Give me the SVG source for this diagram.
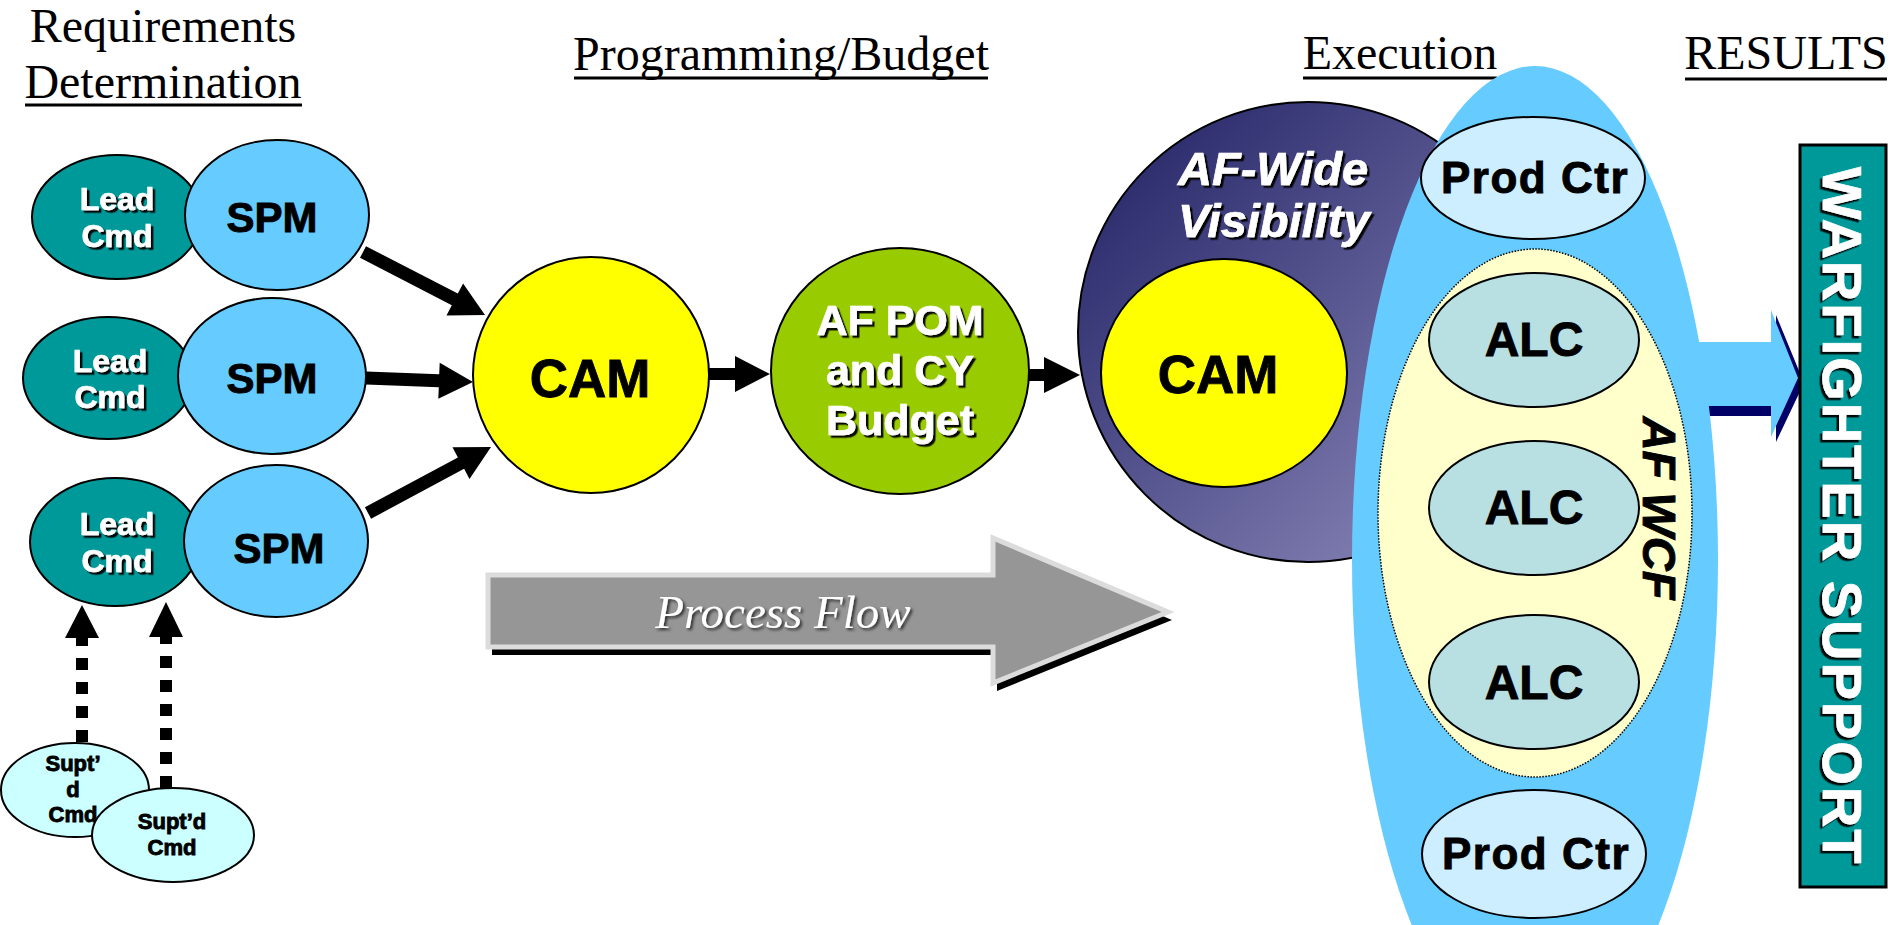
<svg xmlns="http://www.w3.org/2000/svg" width="1895" height="925" viewBox="0 0 1895 925">
<style>
  .head { font-family: "Liberation Serif", "Times New Roman", serif; font-size: 48px; fill: #000; text-anchor: middle; }
  .ul { stroke: #000; stroke-width: 3; }
  .b { font-family: "Liberation Sans", Arial, sans-serif; font-weight: bold; text-anchor: middle; }
  .blk { fill: #000; stroke: #000; stroke-width: 0.9; }
  .wht { fill: #fff; stroke: #fff; stroke-width: 0.7; filter: url(#sh); }
  .edge { stroke: #000; stroke-width: 2; }
  .arr { fill: #000; }
</style>
<defs>
  <filter id="sh" x="-20%" y="-20%" width="140%" height="140%">
    <feDropShadow dx="2.5" dy="2.5" stdDeviation="0.6" flood-color="#000" flood-opacity="0.95"/>
  </filter>
  <filter id="sh2" x="-20%" y="-30%" width="140%" height="160%">
    <feDropShadow dx="2" dy="2" stdDeviation="1.5" flood-color="#000" flood-opacity="0.7"/>
  </filter>
  <linearGradient id="dark" x1="0" y1="0" x2="1" y2="1">
    <stop offset="0" stop-color="#1e1e62"/>
    <stop offset="1" stop-color="#9491c0"/>
  </linearGradient>
</defs>

<g id="headings">
  <text class="head" x="163" y="42">Requirements</text>
  <text class="head" x="163" y="98">Determination</text>
  <line class="ul" x1="25" y1="105" x2="302" y2="105"/>
  <text class="head" x="781" y="70">Programming/Budget</text>
  <line class="ul" x1="574" y1="78" x2="988" y2="78"/>
  <text class="head" x="1400" y="69">Execution</text>
  <line class="ul" x1="1303" y1="78" x2="1497" y2="78"/>
  <text class="head" x="1786" y="69">RESULTS</text>
  <line class="ul" x1="1685" y1="79" x2="1887" y2="79"/>
</g>

<g id="process-flow">
  <polygon points="492,583 997,583 997,546 1172,620 997,691 997,655 492,655" fill="#000"/>
  <polygon points="488,575 993,575 993,538 1168,612 993,683 993,647 488,647" fill="#969696" stroke="#dcdcdc" stroke-width="5" stroke-linejoin="miter"/>
  <text x="783" y="628" font-family="Liberation Serif, serif" font-style="italic" font-size="47" fill="#fff" text-anchor="middle" filter="url(#sh2)">Process Flow</text>
</g>

<g id="connectors">
  <polygon class="arr" points="360.0,257.8 451.8,305.2 446.5,315.4 485,315 463.1,283.4 457.8,293.6 366.0,246.2"/>
  <polygon class="arr" points="365.8,384.5 438.8,387.2 438.3,398.7 473,382 439.7,362.7 439.2,374.2 366.2,371.5"/>
  <polygon class="arr" points="371.1,518.7 464.1,468.8 469.5,479.0 491,447 452.5,447.2 457.9,457.4 364.9,507.3"/>
  <polygon class="arr" points="706,368 735,368 735,356 770,374 735,392 735,380 706,380"/>
  <polygon class="arr" points="1026,369 1044,369 1044,357 1080,375 1044,393 1044,381 1026,381"/>
  <line x1="82" y1="742" x2="82" y2="636" stroke="#000" stroke-width="12" stroke-dasharray="12 12"/>
  <polygon class="arr" points="65,638 99,638 82,605"/>
  <line x1="166" y1="788" x2="166" y2="635" stroke="#000" stroke-width="12" stroke-dasharray="12 12"/>
  <polygon class="arr" points="149,637 183,637 166,602"/>
  <polygon points="1697,347 1776,347 1776,315 1804,383 1776,442 1776,416 1697,416" fill="#000066"/>
  <polygon points="1690,342 1771,342 1771,310 1798,378 1771,437 1771,406 1690,406" fill="#66ccff"/>
</g>

<g id="lead-cmd-1">
  <ellipse cx="117" cy="217" rx="85" ry="62" fill="#009999" class="edge"/>
  <text class="b wht" font-size="32" x="117" y="210">Lead</text>
  <text class="b wht" font-size="32" x="117" y="247">Cmd</text>
</g>
<g id="spm-1">
  <ellipse cx="277" cy="215" rx="92" ry="75" fill="#66ccff" class="edge"/>
  <text class="b blk" font-size="42" x="272" y="232">SPM</text>
</g>
<g id="lead-cmd-2">
  <ellipse cx="108" cy="378" rx="85" ry="61" fill="#009999" class="edge"/>
  <text class="b wht" font-size="32" x="110" y="372">Lead</text>
  <text class="b wht" font-size="32" x="110" y="408">Cmd</text>
</g>
<g id="spm-2">
  <ellipse cx="272" cy="376" rx="94" ry="78" fill="#66ccff" class="edge"/>
  <text class="b blk" font-size="42" x="272" y="393">SPM</text>
</g>
<g id="lead-cmd-3">
  <ellipse cx="115" cy="542" rx="85" ry="64" fill="#009999" class="edge"/>
  <text class="b wht" font-size="32" x="117" y="535">Lead</text>
  <text class="b wht" font-size="32" x="117" y="572">Cmd</text>
</g>
<g id="spm-3">
  <ellipse cx="276" cy="541" rx="92" ry="76" fill="#66ccff" class="edge"/>
  <text class="b blk" font-size="42" x="279" y="563">SPM</text>
</g>

<g id="suptd-cmd-1">
  <ellipse cx="75" cy="790" rx="74" ry="47" fill="#ccffff" class="edge"/>
  <text class="b blk" font-size="22" stroke-width="0.6" x="73" y="771">Supt’</text>
  <text class="b blk" font-size="22" stroke-width="0.6" x="73" y="797">d</text>
  <text class="b blk" font-size="22" stroke-width="0.6" x="73" y="822">Cmd</text>
</g>
<g id="suptd-cmd-2">
  <ellipse cx="173" cy="835" rx="81" ry="47" fill="#ccffff" class="edge"/>
  <text class="b blk" font-size="22" stroke-width="0.6" x="172" y="829">Supt’d</text>
  <text class="b blk" font-size="22" stroke-width="0.6" x="172" y="855">Cmd</text>
</g>

<g id="cam-1">
  <circle cx="591" cy="375" r="118" fill="#ffff00" class="edge"/>
  <text class="b blk" font-size="53" x="590" y="397">CAM</text>
</g>

<g id="af-pom">
  <ellipse cx="900" cy="371" rx="129" ry="123" fill="#99cc00" class="edge"/>
  <text class="b wht" font-size="43" x="900" y="335">AF POM</text>
  <text class="b wht" font-size="43" x="900" y="385">and CY</text>
  <text class="b wht" font-size="43" x="900" y="435">Budget</text>
</g>

<g id="af-wide-visibility">
  <circle cx="1308" cy="332" r="230" fill="url(#dark)" class="edge"/>
  <text class="wht" font-family="Liberation Sans, Arial, sans-serif" font-weight="bold" font-style="italic" font-size="47" x="1178" y="185">AF-Wide</text>
  <text class="wht" font-family="Liberation Sans, Arial, sans-serif" font-weight="bold" font-style="italic" font-size="47" x="1178" y="237">Visibility</text>
</g>
<g id="cam-2">
  <ellipse cx="1224" cy="373" rx="123" ry="114" fill="#ffff00" class="edge"/>
  <text class="b blk" font-size="53" x="1218" y="393">CAM</text>
</g>

<g id="execution-area">
  <ellipse cx="1535" cy="560" rx="183" ry="494" fill="#66ccff"/>
</g>
<g id="af-wcf">
  <ellipse cx="1535" cy="513" rx="157" ry="264" fill="#ffffcc" stroke="#000" stroke-width="1.5" stroke-dasharray="1.5 1.5"/>
  <text class="b blk" font-style="italic" font-size="47" transform="translate(1659,508) rotate(90)" x="0" y="16">AF WCF</text>
</g>
<g id="prod-ctr-1">
  <ellipse cx="1533" cy="178" rx="112" ry="61" fill="#cceeff" class="edge"/>
  <text class="b blk" font-size="44" letter-spacing="1.5" x="1535" y="193">Prod Ctr</text>
</g>
<g id="alc-1">
  <ellipse cx="1534" cy="340" rx="105" ry="67" fill="#b8e0e2" class="edge"/>
  <text class="b blk" font-size="48" x="1534" y="356">ALC</text>
</g>
<g id="alc-2">
  <ellipse cx="1534" cy="508" rx="105" ry="67" fill="#b8e0e2" class="edge"/>
  <text class="b blk" font-size="48" x="1534" y="524">ALC</text>
</g>
<g id="alc-3">
  <ellipse cx="1534" cy="682" rx="105" ry="67" fill="#b8e0e2" class="edge"/>
  <text class="b blk" font-size="48" x="1534" y="699">ALC</text>
</g>
<g id="prod-ctr-2">
  <ellipse cx="1534" cy="854" rx="112" ry="64" fill="#cceeff" class="edge"/>
  <text class="b blk" font-size="44" letter-spacing="1.5" x="1536" y="869">Prod Ctr</text>
</g>

<g id="warfighter-support">
  <rect x="1800" y="145" width="86" height="742" fill="#009999" stroke="#000" stroke-width="3"/>
  <text class="b wht" font-size="56" letter-spacing="2" transform="translate(1843,516) rotate(90)" x="0" y="20">WARFIGHTER SUPPORT</text>
</g>
</svg>
